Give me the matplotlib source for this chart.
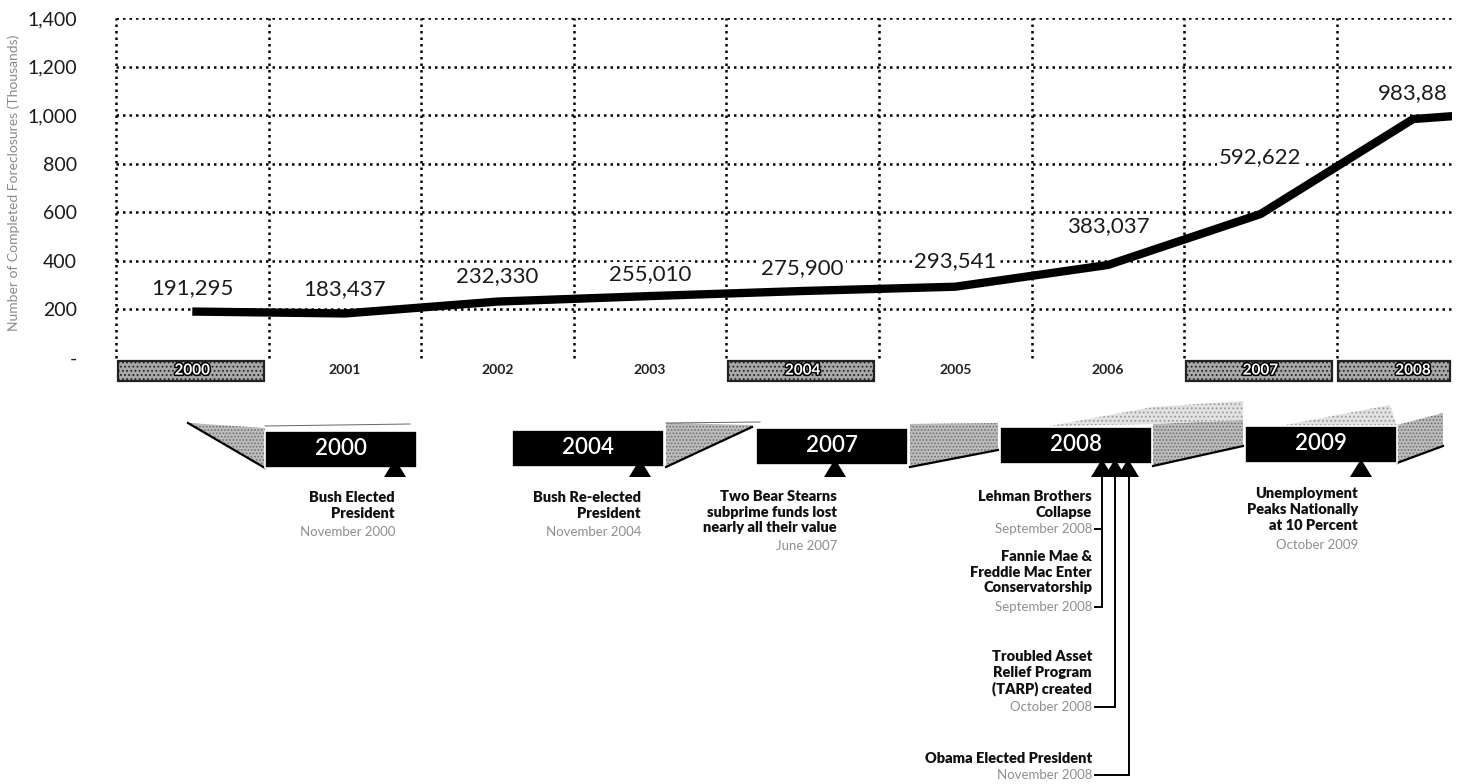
import numpy as np
import matplotlib.pyplot as plt
from matplotlib.patches import Rectangle, Polygon
import matplotlib.patheffects as pe

plt.rcParams['font.family'] = ['Lato', 'DejaVu Sans']
plt.rcParams['hatch.color'] = '#7a7a7a'
plt.rcParams['hatch.linewidth'] = 0.8

# completed foreclosures per year, in thousands (last point runs off the edge)
years = [2000, 2001, 2002, 2003, 2004, 2005, 2006, 2007, 2008, 2009]
foreclosures = [191.295, 183.437, 232.330, 255.010, 275.900, 293.541, 383.037, 592.622, 983.88, 1030]
value_labels = ['191,295', '183,437', '232,330', '255,010', '275,900',
                '293,541', '383,037', '592,622', '983,88']
label_lift = [23, 24, 25, 22, 23, 26, 39, 57, 26]  # px above each point

axis_years = ['2000', '2001', '2002', '2003', '2004', '2005', '2006', '2007', '2008']
boxed_years = ['2000', '2004', '2007', '2008']

yticks = [0, 200, 400, 600, 800, 1000, 1200, 1400]
ytick_labels = ['-', '200', '400', '600', '800', '1,000', '1,200', '1,400']

# timeline strip
tl_years = ['2000', '2004', '2007', '2008', '2009']
tl_left = [265, 512, 756, 1000, 1245]
tl_top = [431, 430, 428, 427, 426]
tl_markers = [[395], [640], [835], [1102, 1115, 1128], [1361]]

events = [
    ('Bush Elected\nPresident', 'November 2000', 395, 491, 532),
    ('Bush Re-elected\nPresident', 'November 2004', 641, 491, 532),
    ('Two Bear Stearns\nsubprime funds lost\nnearly all their value', 'June 2007', 837, 490, 546),
    ('Lehman Brothers\nCollapse', 'September 2008', 1092, 490, 529),
    ('Fannie Mae &\nFreddie Mac Enter\nConservatorship', 'September 2008', 1092, 550, 607),
    ('Troubled Asset\nRelief Program\n(TARP) created', 'October 2008', 1092, 650, 707),
    ('Obama Elected President', 'November 2008', 1092, 752, 775),
    ('Unemployment\nPeaks Nationally\nat 10 Percent', 'October 2009', 1358, 487, 545),
]

W, H = 1457, 784
fig = plt.figure(figsize=(W / 100, H / 100), dpi=100)

# overlay in pixel units for the timeline
tl = fig.add_axes([0, 0, 1, 1])
tl.set_xlim(0, W)
tl.set_ylim(H, 0)
tl.axis('off')

ax = fig.add_axes([116 / W, 1 - 358 / H, (1452 - 116) / W, 340 / H])
ax.set_facecolor('none')
x = np.arange(len(years))
ax.set_xlim(-0.5, 8.255)
ax.set_ylim(0, 1400)

dots = (0, (1, 1.6))
for yv in yticks[1:]:
    ax.axhline(yv, color='black', lw=1.8, ls=dots, zorder=1)
for xv in np.arange(-0.5, 8.5, 1):
    ax.plot([xv, xv], [0, 1400], color='black', lw=1.8, ls=dots, zorder=1, clip_on=False)

ax.plot(x, foreclosures, color='black', lw=6, solid_capstyle='butt', solid_joinstyle='miter', zorder=3)

px = 72 / 100
for i, lab in enumerate(value_labels):
    ax.annotate(lab, (x[i], foreclosures[i]), xytext=(0, label_lift[i] * px),
                textcoords='offset points', ha='center', va='center', fontsize=16,
                color='#1a1a1a', zorder=4, annotation_clip=False,
                bbox=dict(facecolor='white', edgecolor='none', pad=1.5))

ax.set_yticks(yticks)
ax.set_yticklabels(ytick_labels, fontsize=14, color='#1a1a1a')
ax.tick_params(axis='y', length=0, pad=28)
ax.set_xticks([])
for s in ax.spines.values():
    s.set_visible(False)

# year row under the chart
xt = ax.get_xaxis_transform()
for i, yr in enumerate(axis_years):
    if yr in boxed_years:
        left = i - 0.49
        right = min(i + 0.47, 8.24)
        ax.add_patch(Rectangle((left, -0.068), right - left, 0.059, transform=xt,
                               facecolor='#a8a8a8', edgecolor='#222222', lw=1.6,
                               hatch='....', clip_on=False, zorder=2))
        ax.text(i, -0.037, yr, transform=xt, ha='center', va='center', fontsize=11,
                fontweight='bold', color='white', zorder=3,
                path_effects=[pe.withStroke(linewidth=2.2, foreground='black')])
    else:
        ax.text(i, -0.035, yr, transform=xt, ha='center', va='center', fontsize=10,
                fontweight='bold', color='#222222')

fig.text(14 / W, 1 - 183 / H, 'Number of Completed Foreclosures (Thousands)',
         rotation=90, ha='center', va='center', fontsize=10, color='#8a8a8a')

# ribbon shading between the year boxes: front faces, then the lighter back faces
front = [
    [(188, 423), (265, 428), (265, 468)],
    [(666, 423), (752, 425), (752, 427), (666, 467)],
    [(910, 424), (998, 423), (998, 450), (910, 467)],
    [(1153, 424), (1243, 420), (1243, 446), (1153, 466)],
    [(1397, 425), (1443, 413), (1443, 446), (1397, 463)],
]
back = [
    [(1050, 426), (1153, 407), (1243, 401), (1243, 420), (1153, 424)],
    [(1280, 426), (1390, 405), (1397, 426)],
]
for poly in front:
    tl.add_patch(Polygon(poly, closed=True, facecolor='#bdbdbd', edgecolor='#6f6f6f',
                         lw=0, hatch='.....', zorder=1))
for poly in back:
    tl.add_patch(Polygon(poly, closed=True, facecolor='#e2e2e2', edgecolor='#9a9a9a',
                         lw=0, hatch='....', zorder=1))
edges = [
    [(188, 423), (265, 468)],
    [(666, 467), (752, 427)],
    [(910, 467), (998, 450)],
    [(1153, 466), (1243, 446)],
    [(1397, 463), (1443, 446)],
]
for (x0, y0), (x1, y1) in edges:
    tl.plot([x0, x1], [y0, y1], color='black', lw=1.6, zorder=2)
tl.plot([265, 410], [426, 424], color='#666666', lw=0.7, zorder=2)
tl.plot([666, 760], [423, 422], color='#666666', lw=0.7, zorder=2)

for yr, left, top, marks in zip(tl_years, tl_left, tl_top, tl_markers):
    tl.add_patch(Rectangle((left, top), 152, 37, facecolor='black',
                           edgecolor='white', lw=1.2, zorder=3))
    tl.text(left + 76, top + 17, yr, ha='center', va='center', fontsize=16,
            color='white', fontweight='semibold', zorder=4)
    for m in marks:
        tl.add_patch(Polygon([(m - 11, 477), (m, 459), (m + 11, 477)], closed=True,
                             facecolor='black', edgecolor='none', zorder=5))

# connectors for the 2008 events
tl.plot([1102, 1102], [477, 607], color='black', lw=1.4)
tl.plot([1115, 1115], [477, 707], color='black', lw=1.4)
tl.plot([1129, 1129], [477, 775], color='black', lw=1.4)
tl.plot([1095, 1102], [529, 529], color='black', lw=1.4)
tl.plot([1095, 1102], [607, 607], color='black', lw=1.4)
tl.plot([1095, 1115], [707, 707], color='black', lw=1.4)
tl.plot([1095, 1129], [775, 775], color='black', lw=1.4)

for title, date, xr, ytop, ydate in events:
    tl.text(xr, ytop, title, ha='right', va='top', fontsize=10.5, fontweight='heavy',
            color='#111111', linespacing=1.25, multialignment='right')
    tl.text(xr, ydate, date, ha='right', va='center', fontsize=9.5, color='#8f8f8f')

fig.savefig('out.png', dpi=100, facecolor='white')
